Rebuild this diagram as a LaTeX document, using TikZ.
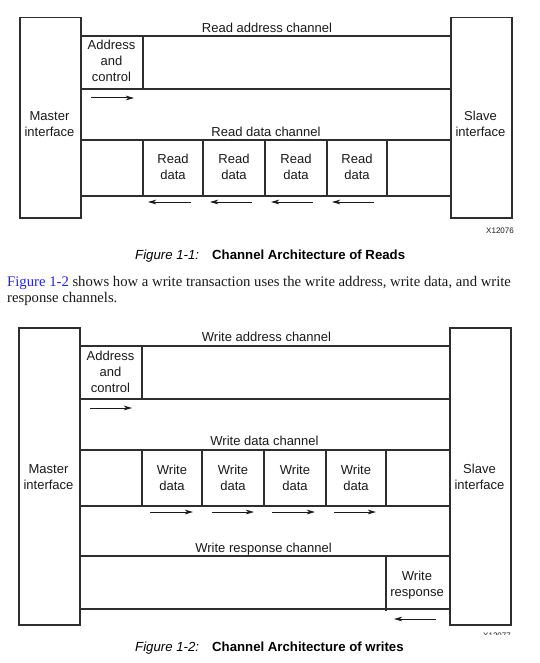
\documentclass[tikz,border=0pt]{standalone}
\usepackage{fontspec}
\setmainfont{Liberation Serif}
\newfontfamily\arialf{Liberation Sans}
\usetikzlibrary{arrows.meta}
\definecolor{linec}{HTML}{2E2E2E}
\definecolor{linkblue}{HTML}{2222FF}
\definecolor{txt}{HTML}{1A1A1A}
\begin{document}
\begin{tikzpicture}[x=1pt,y=-1pt,
  box/.style={draw=linec,line width=1.5pt},
  ifbox/.style={draw=linec,line width=1.5pt,minimum width=61pt,inner sep=0pt,anchor=north west},
  lbl/.style={font=\arialf\fontsize{13}{16}\selectfont,align=center,inner sep=0pt,text=txt,text depth=0pt},
  captxt/.style={font=\arialf\fontsize{13.2}{16}\selectfont,inner sep=0pt,anchor=base west,text=black},
  para/.style={font=\fontsize{14.7}{16}\selectfont,inner sep=0pt,anchor=base west,text=txt},
  xnum/.style={font=\arialf\fontsize{8}{9}\selectfont,inner sep=0pt,anchor=base east,text=txt},
  flow/.style={draw=txt,line width=1pt,-{Stealth[length=8pt,width=4.6pt,inset=2pt]}}]
\useasboundingbox (0,0) rectangle (539,663);
\fill[white] (0,0) rectangle (539,663);

% ================= Figure 1-1 =================
\node[ifbox,minimum height=200pt] (m1) at (19,17) {};
\node[ifbox,minimum height=200pt] (s1) at (450,17) {};
\node[lbl] (m1t) at (49.5,124) {Master\\interface};
\node[lbl] (s1t) at (480.5,124) {Slave\\interface};

% read address channel
\node[lbl] (rac) at (267,28) {Read address channel};
\draw[box] (80,36) -- (450,36);
\draw[box] (80,89) -- (450,89);
\draw[box] (143,36) -- (143,89);
\node[lbl] (rac1) at (111.5,61) {Address\\and\\control};
\coordinate (ra1) at (91,98); \coordinate (ra2) at (134,98);
\draw[flow] (ra1) -- (ra2);

% read data channel
\node[lbl] (rdc) at (266,131.5) {Read data channel};
\draw[box] (80,140) -- (450,140);
\draw[box] (80,196) -- (450,196);
\foreach \x in {143,203,265,327,387} \draw[box] (\x,140) -- (\x,196);
\node[lbl] (rd1) at (173,167) {Read\\data};
\node[lbl] (rd2) at (234,167) {Read\\data};
\node[lbl] (rd3) at (296,167) {Read\\data};
\node[lbl] (rd4) at (357,167) {Read\\data};
\coordinate (rb1s) at (191,202); \coordinate (rb1e) at (148,202);
\coordinate (rb2s) at (252,202); \coordinate (rb2e) at (210,202);
\coordinate (rb3s) at (313,202); \coordinate (rb3e) at (271,202);
\coordinate (rb4s) at (374,202); \coordinate (rb4e) at (332,202);
\draw[flow] (rb1s) -- (rb1e);
\draw[flow] (rb2s) -- (rb2e);
\draw[flow] (rb3s) -- (rb3e);
\draw[flow] (rb4s) -- (rb4e);

\node[xnum] (x1) at (514,233.5) {X12076};
\node[captxt] (c1a) at (135,259.3) {\itshape Figure 1-1:};
\node[captxt] (c1b) at (212,259.3) {\bfseries Channel Architecture of Reads};

% paragraph
\node[para] (p1) at (7,286) {\textcolor{linkblue}{Figure 1-2} shows how a write transaction uses the write address, write data, and write};
\node[para] (p2) at (7,302) {response channels.};

% ================= Figure 1-2 =================
\node[ifbox,minimum height=297pt] (m2) at (18,327) {};
\node[ifbox,minimum height=297pt] (s2) at (449,327) {};
\node[lbl] (m2t) at (48.5,477) {Master\\interface};
\node[lbl] (s2t) at (479.5,477) {Slave\\interface};

% write address channel
\node[lbl] (wac) at (266.5,337) {Write address channel};
\draw[box] (79,346) -- (449,346);
\draw[box] (79,399) -- (449,399);
\draw[box] (142,346) -- (142,399);
\node[lbl] (wac1) at (110.5,372) {Address\\and\\control};
\coordinate (wa1) at (90,408); \coordinate (wa2) at (132,408);
\draw[flow] (wa1) -- (wa2);

% write data channel
\node[lbl] (wdc) at (264.5,441) {Write data channel};
\draw[box] (79,450) -- (449,450);
\draw[box] (79,506) -- (449,506);
\foreach \x in {142,202,264,326,386} \draw[box] (\x,450) -- (\x,506);
\node[lbl] (wd1) at (172,478) {Write\\data};
\node[lbl] (wd2) at (233,478) {Write\\data};
\node[lbl] (wd3) at (295,478) {Write\\data};
\node[lbl] (wd4) at (356,478) {Write\\data};
\coordinate (wb1s) at (150,512); \coordinate (wb1e) at (193,512);
\coordinate (wb2s) at (212,512); \coordinate (wb2e) at (254,512);
\coordinate (wb3s) at (272,512); \coordinate (wb3e) at (315,512);
\coordinate (wb4s) at (334,512); \coordinate (wb4e) at (376,512);
\draw[flow] (wb1s) -- (wb1e);
\draw[flow] (wb2s) -- (wb2e);
\draw[flow] (wb3s) -- (wb3e);
\draw[flow] (wb4s) -- (wb4e);

% write response channel
\node[lbl] (wrc) at (263.5,547.5) {Write response channel};
\draw[box] (79,556) -- (449,556);
\draw[box] (79,609) -- (449,609);
\draw[box] (386,556) -- (386,611);
\node[lbl] (wr1) at (417,583.5) {Write\\response};
\coordinate (wrs) at (436,619); \coordinate (wre) at (394,619);
\draw[flow] (wrs) -- (wre);

\begin{scope}
\clip (470,628) rectangle (520,634.4);
\node[xnum] (x2) at (511,638.8) {X12077};
\end{scope}
\node[captxt] (c2a) at (135,651) {\itshape Figure 1-2:};
\node[captxt] (c2b) at (212,651) {\bfseries Channel Architecture of writes};
\end{tikzpicture}
\end{document}
